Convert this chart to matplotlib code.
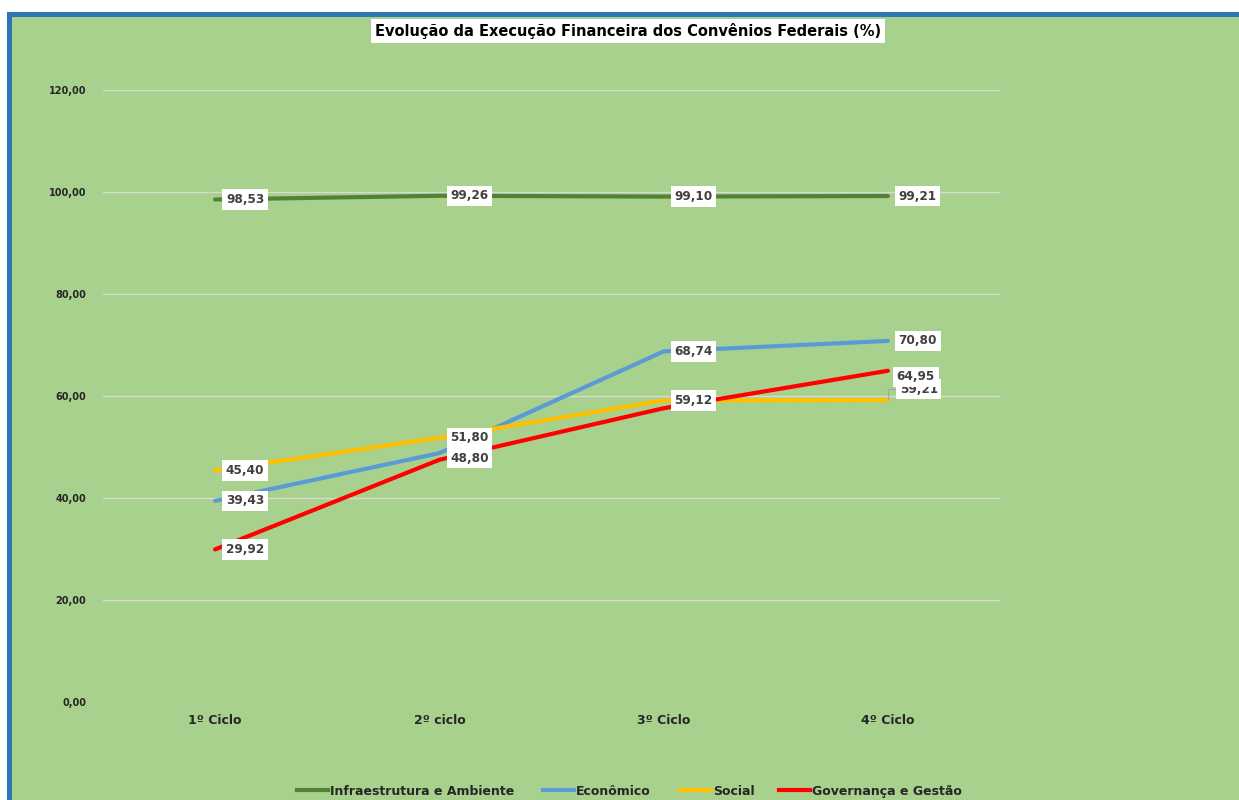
import matplotlib
matplotlib.use("Agg")
import matplotlib.pyplot as plt
from matplotlib.patches import Rectangle
from matplotlib.lines import Line2D

categories = ["1º Ciclo", "2º ciclo", "3º Ciclo", "4º Ciclo"]
series_names = ["Infraestrutura e Ambiente", "Econômico", "Social", "Governança e Gestão"]
infra = [98.53, 99.26, 99.10, 99.21]
economico = [39.43, 48.80, 68.74, 70.80]
social = [45.40, 51.80, 59.12, 59.21]
governanca = [29.92, 47.50, 57.60, 64.95]
# which data labels are visible in the reference
show_infra = [True, True, True, True]
show_econ = [True, True, True, True]
show_social = [True, True, True, True]
show_gov = [True, False, False, True]
y_ticks = [0, 20, 40, 60, 80, 100, 120]

colors = ["#548235", "#5B9BD5", "#FFC000", "#FF0000"]
GREEN_BG = "#A9D18E"
BLUE_BORDER = "#2E75B6"

W, H = 1239, 800
fig = plt.figure(figsize=(W / 100, H / 100), dpi=100)
fig.patch.set_facecolor("white")

# background panel with blue border (top and left)
fig.add_artist(Rectangle((12 / W, 0), 1, 1 - 16 / H, transform=fig.transFigure,
                         facecolor=GREEN_BG, edgecolor="none", zorder=-10))
fig.add_artist(Rectangle((7 / W, 0), 5 / W, 1 - 12 / H, transform=fig.transFigure,
                         facecolor=BLUE_BORDER, edgecolor="none", zorder=-9))
fig.add_artist(Rectangle((7 / W, 1 - 17 / H), 1, 5 / H, transform=fig.transFigure,
                         facecolor=BLUE_BORDER, edgecolor="none", zorder=-9))

ax = fig.add_axes([103 / W, 1 - 702 / H, (1000 - 103) / W, (702 - 90) / H])
ax.set_facecolor("none")
ax.set_xlim(0, 4)
ax.set_ylim(0, 120)
for s in ax.spines.values():
    s.set_visible(False)
ax.set_yticks(y_ticks)
ax.set_yticklabels([f"{v:.2f}".replace(".", ",") for v in y_ticks],
                   fontsize=7, fontweight="bold", color="#262626")
ax.tick_params(axis="y", length=0, pad=12)
ax.set_xticks([i + 0.5 for i in range(len(categories))])
ax.set_xticklabels(categories, fontsize=9, fontweight="bold", color="#262626")
ax.tick_params(axis="x", length=0, pad=9)
ax.grid(axis="y", color="#D9D9D9", lw=0.9)
ax.set_axisbelow(True)

xs = [i + 0.5 for i in range(len(categories))]
all_series = [infra, economico, social, governanca]
all_show = [show_infra, show_econ, show_social, show_gov]

for vals, c, name in zip(all_series, colors, series_names):
    ax.plot(xs, vals, color=c, lw=3, label=name, solid_capstyle="round", zorder=3)

# label offsets in pixels (dx, dy) – styling only
special = {(1, 1): (8, -5), (3, 3): (6, -6), (2, 3): (9, 11)}
bbox = dict(boxstyle="square,pad=0.3", facecolor="white", edgecolor="none")
for si, (vals, show) in enumerate(zip(all_series, all_show)):
    for i, (x, v) in enumerate(zip(xs, vals)):
        if not show[i]:
            continue
        dx, dy = special.get((si, i), (8, 0))
        kw = {}
        if (si, i) == (2, 3):
            kw["arrowprops"] = dict(arrowstyle="-", color="#A6A6A6", lw=0.8,
                                    shrinkA=0, shrinkB=0,
                                    connectionstyle="angle,angleA=0,angleB=90,rad=0")
        ax.annotate(f"{v:.2f}".replace(".", ","), xy=(x, v),
                    xytext=(dx * 0.72 + 2, dy * 0.72), textcoords="offset points",
                    ha="left", va="center", fontsize=8.7, fontweight="bold",
                    color="#404040", bbox=bbox, zorder=5, **kw)

fig.text(628 / W, 1 - 31 / H, "Evolução da Execução Financeira dos Convênios Federais (%)",
         ha="center", va="center", fontsize=10.5, fontweight="bold", color="black",
         bbox=dict(boxstyle="square,pad=0.25", facecolor="white", edgecolor="none"))

# manual legend (keeps all entries on a common baseline)
legend_x_px = [297, 543, 680, 779]
legend_y = 1 - 790 / H
for x0, c, name in zip(legend_x_px, colors, series_names):
    fig.add_artist(Line2D([x0 / W, (x0 + 31) / W], [legend_y, legend_y],
                          transform=fig.transFigure, color=c, lw=3))
    fig.text((x0 + 33) / W, legend_y, name, ha="left", va="center_baseline",
             fontsize=9, fontweight="bold", color="#262626")

fig.savefig("out.png", dpi=100)
